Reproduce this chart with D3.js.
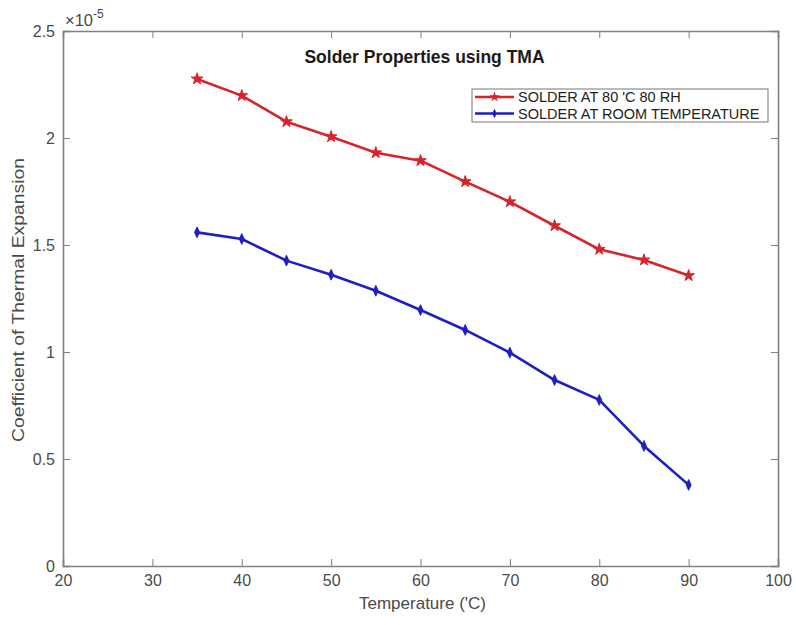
<!DOCTYPE html>
<html><head><meta charset="utf-8">
<script src="https://cdn.jsdelivr.net/npm/d3@7"></script>
<style>body{margin:0;background:#fff}svg{display:block;font-family:"Liberation Sans",Arial,sans-serif}</style>
</head><body>
<svg id="c" width="796" height="625"></svg>
<script>
const temps = [35,40,45,50,55,60,65,70,75,80,85,90];
const solder80 = [2.276,2.198,2.076,2.006,1.931,1.894,1.796,1.702,1.590,1.480,1.430,1.357];
const solderRoom = [1.559,1.528,1.427,1.361,1.286,1.196,1.103,0.997,0.869,0.776,0.561,0.379];
const xTicks = [20,30,40,50,60,70,80,90,100];
const yTicks = [0,0.5,1,1.5,2,2.5];
const seriesNames = ["SOLDER AT 80 'C 80 RH","SOLDER AT ROOM TEMPERATURE"];
const title = "Solder Properties using TMA";
const xLabel = "Temperature ('C)";
const yLabel = "Coefficient of Thermal Expansion";

const L=63,R=778,T=31,B=566;
const svg=d3.select("#c");
const x=d3.scaleLinear().domain([20,100]).range([L,R]);
const y=d3.scaleLinear().domain([0,2.5]).range([B,T]);
const axCol="#808080", txtCol="#4a4a4a";

// axes
const gx=svg.append("g").attr("transform",`translate(0,${B})`)
 .call(d3.axisBottom(x).tickValues(xTicks).tickSize(-7).tickPadding(9).tickFormat(d3.format("d")));
const gxt=svg.append("g").attr("transform",`translate(0,${T})`)
 .call(d3.axisTop(x).tickValues(xTicks).tickSize(-7).tickFormat(""));
const gy=svg.append("g").attr("transform",`translate(${L},0)`)
 .call(d3.axisLeft(y).tickValues(yTicks).tickSize(-7).tickPadding(8).tickFormat(d=>String(d)));
const gyr=svg.append("g").attr("transform",`translate(${R},0)`)
 .call(d3.axisRight(y).tickValues(yTicks).tickSize(-7).tickFormat(""));
[gx,gxt,gy,gyr].forEach(g=>{
  g.selectAll("path").attr("stroke",axCol).attr("stroke-width",1.6);
  g.selectAll("line").attr("stroke",axCol).attr("stroke-width",1);
  g.selectAll("text").attr("fill",txtCol).attr("font-size",16).attr("font-family","Liberation Sans, Arial, sans-serif");
});

// exponent
const ex=svg.append("text").attr("x",L+2).attr("y",T-5).attr("fill",txtCol).attr("font-size",16.5);
ex.append("tspan").text("\u00d710");
ex.append("tspan").attr("dy",-8).attr("font-size",12).text("-5");

// title
svg.append("text").attr("x",(L+R)/2+4).attr("y",63).attr("text-anchor","middle")
 .attr("font-weight","bold").attr("font-size",17.5).attr("fill","#1a1a1a").text(title);
// axis labels
svg.append("text").attr("x",(L+R)/2+2).attr("y",609).attr("text-anchor","middle")
 .attr("font-size",17).attr("fill",txtCol).text(xLabel);
svg.append("text").attr("transform",`translate(24,300) rotate(-90)`).attr("text-anchor","middle")
 .attr("font-size",17).attr("textLength",284).attr("lengthAdjust","spacingAndGlyphs")
 .attr("fill",txtCol).text(yLabel);

const colors=["#d7232b","#1e1ec4"];
const symbols=[d3.symbolStar,d3.symbolDiamond];
const sizes=[42,34];
const line=d3.line().x((d,i)=>x(temps[i])).y(d=>y(d));
[solder80,solderRoom].forEach((s,k)=>{
  svg.append("path").datum(s).attr("d",line).attr("fill","none")
   .attr("stroke",colors[k]).attr("stroke-width",2.6).attr("stroke-linejoin","round");
  svg.selectAll(null).data(s).join("path")
   .attr("transform",(d,i)=>`translate(${x(temps[i])},${y(d)}) scale(${k?0.8:1},1)`)
   .attr("d",d3.symbol().type(symbols[k]).size(sizes[k]))
   .attr("fill",colors[k]).attr("stroke",colors[k]).attr("stroke-width",1);
});

// legend
const lg=svg.append("g");
lg.append("rect").attr("x",472).attr("y",89).attr("width",296).attr("height",33)
 .attr("fill","#fff").attr("stroke","#777").attr("stroke-width",1);
seriesNames.forEach((n,k)=>{
  const yy=97+k*16.5;
  lg.append("line").attr("x1",475).attr("x2",514).attr("y1",yy).attr("y2",yy)
   .attr("stroke",colors[k]).attr("stroke-width",2.6);
  lg.append("path").attr("transform",`translate(494.5,${yy}) scale(${k?0.8:1},1)`)
   .attr("d",d3.symbol().type(symbols[k]).size(sizes[k]*0.8)).attr("fill",colors[k]);
  lg.append("text").attr("x",518).attr("y",yy+5).attr("font-size",14.5).attr("fill","#222").text(n);
});
</script>
</body></html>
